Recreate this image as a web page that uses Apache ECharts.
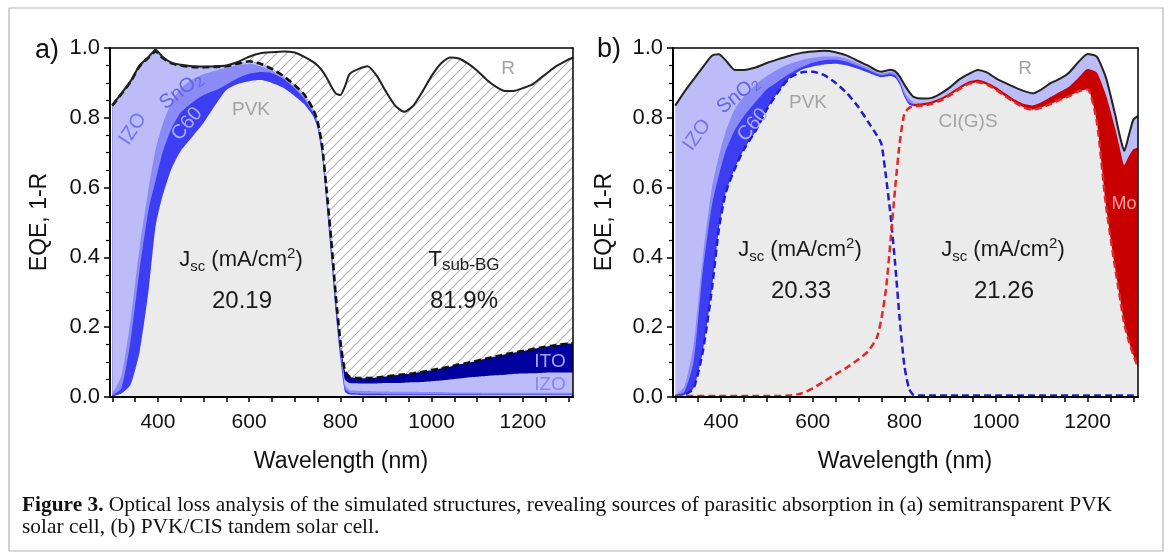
<!DOCTYPE html>
<html><head><meta charset="utf-8">
<script src="https://cdn.jsdelivr.net/npm/echarts@6/dist/echarts.min.js"></script>
<style>html,body{margin:0;padding:0;background:#fff}#c{width:1168px;height:559px}</style>
</head><body><div id="c"></div>
<script>
// ---------- data (wavelength grid, nm) ----------
const WL = [300,320,340,360,380,395,
  410,430,450,475,500,525,550,575,
  600,625,650,675,700,720,740,750,
  760,770,780,790,800,810,820,
  840,860,880,900,920,940,960,980,1000,
  1020,1040,1060,1080,1100,1120,1140,1160,1180,1200,
  1220,1240,1260,1270,1280,1290,1300,1310];

// Panel a: semitransparent PVK cell (cumulative boundaries)
const R_A = [0.837,0.87,0.905,0.95,0.975,0.995,
  0.975,0.958,0.952,0.948,0.947,0.948,0.95,0.96,
  0.975,0.985,0.988,0.99,0.987,0.975,0.96,0.95,
  0.935,0.915,0.89,0.87,0.865,0.89,0.925,
  0.94,0.948,0.92,0.875,0.835,0.817,0.835,0.875,0.92,
  0.955,0.973,0.97,0.955,0.935,0.91,0.89,0.877,0.877,0.885,
  0.895,0.915,0.935,0.945,0.953,0.96,0.967,0.972];
const ABS_A = [0.835,0.868,0.903,0.948,0.973,0.99,
  0.972,0.956,0.95,0.946,0.945,0.946,0.948,0.955,
  0.962,0.955,0.94,0.92,0.893,0.868,0.825,0.79,
  0.72,0.59,0.45,0.29,0.16,0.075,0.058,
  0.054,0.054,0.056,0.059,0.062,0.065,0.068,0.072,0.077,
  0.082,0.087,0.093,0.098,0.104,0.11,0.116,0.122,0.127,0.132,
  0.137,0.142,0.146,0.148,0.15,0.152,0.153,0.154];
const IZO_A = [0.835,0.868,0.903,0.948,0.973,0.99,
  0.972,0.956,0.95,0.946,0.945,0.946,0.948,0.955,
  0.962,0.955,0.94,0.92,0.893,0.868,0.825,0.79,
  0.72,0.59,0.45,0.29,0.155,0.05,0.04,
  0.039,0.039,0.039,0.04,0.04,0.041,0.042,0.043,0.045,
  0.047,0.05,0.053,0.056,0.058,0.06,0.062,0.064,0.066,0.067,
  0.068,0.069,0.07,0.07,0.07,0.07,0.07,0.07];
const SNO2_A = [0.01,0.06,0.22,0.43,0.6,0.71,
  0.78,0.845,0.885,0.91,0.925,0.935,0.943,0.95,
  0.955,0.948,0.935,0.915,0.888,0.862,0.82,0.786,
  0.712,0.58,0.44,0.28,0.148,0.035,0.02,
  0.018,0.017,0.016,0.016,0.015,0.015,0.015,0.014,0.014,
  0.014,0.013,0.013,0.013,0.013,0.012,0.012,0.012,0.012,0.012,
  0.012,0.012,0.012,0.012,0.012,0.012,0.012,0.012];
const C60_A = [0.005,0.025,0.16,0.365,0.54,0.62,
  0.7,0.77,0.815,0.843,0.865,0.878,0.895,0.913,
  0.926,0.931,0.928,0.912,0.884,0.856,0.815,0.78,
  0.705,0.57,0.425,0.265,0.135,0.025,0.012,
  0.01,0.009,0.009,0.008,0.008,0.008,0.008,0.008,0.008,
  0.008,0.008,0.008,0.008,0.008,0.007,0.007,0.007,0.007,0.007,
  0.007,0.007,0.007,0.007,0.007,0.007,0.007,0.007];
const PVK_A = [0.002,0.01,0.035,0.13,0.31,0.49,
  0.575,0.655,0.705,0.745,0.785,0.835,0.88,0.897,
  0.905,0.908,0.9,0.886,0.862,0.84,0.805,0.77,
  0.69,0.55,0.4,0.24,0.11,0.015,0.007,
  0.006,0.005,0.005,0.005,0.005,0.005,0.005,0.005,0.005,
  0.005,0.005,0.005,0.005,0.005,0.005,0.005,0.005,0.005,0.005,
  0.005,0.005,0.005,0.005,0.005,0.005,0.005,0.005];

// Panel b: PVK/CIS tandem cell
const R_B = [0.835,0.875,0.91,0.945,0.978,0.982,
  0.965,0.937,0.937,0.944,0.957,0.968,0.978,0.986,
  0.99,0.992,0.988,0.978,0.962,0.95,0.935,0.932,
  0.935,0.938,0.933,0.918,0.895,0.875,0.86,
  0.855,0.857,0.87,0.888,0.91,0.925,0.937,0.93,0.913,
  0.9,0.888,0.877,0.87,0.882,0.9,0.912,0.93,0.96,0.983,
  0.975,0.915,0.81,0.75,0.705,0.75,0.795,0.805];
const MO_B = [null,null,null,null,null,null,
  null,null,null,null,null,null,null,null,
  null,null,null,null,null,null,null,null,
  null,null,null,null,0.82,0.835,0.84,
  0.842,0.847,0.857,0.872,0.889,0.904,0.909,0.902,0.888,
  0.87,0.853,0.84,0.835,0.845,0.86,0.875,0.89,0.915,0.94,
  0.93,0.865,0.77,0.715,0.665,0.69,0.71,0.715];
const SNO2_B = [0.005,0.03,0.15,0.4,0.6,0.69,
  0.76,0.825,0.862,0.895,0.92,0.94,0.955,0.965,
  0.972,0.976,0.976,0.969,0.955,0.944,0.93,0.927,
  0.929,0.932,0.928,0.91,0.877,0.855,0.845,
  null,null,null,null,null,null,null,null,null,
  null,null,null,null,null,null,null,null,null,null,
  null,null,null,null,null,null,null,null];
const C60_B = [0.003,0.015,0.1,0.36,0.55,0.635,
  0.705,0.765,0.805,0.845,0.882,0.905,0.927,0.945,
  0.958,0.965,0.966,0.96,0.948,0.938,0.926,0.922,
  0.924,0.926,0.921,0.902,0.867,0.845,0.838,
  null,null,null,null,null,null,null,null,null,
  null,null,null,null,null,null,null,null,null,null,
  null,null,null,null,null,null,null,null];
const GRAY_B = [0.003,0.006,0.025,0.13,0.31,0.48,
  0.585,0.655,0.71,0.76,0.825,0.875,0.915,0.937,
  0.947,0.953,0.955,0.95,0.94,0.93,0.92,0.916,
  0.918,0.92,0.915,0.895,0.86,0.838,0.833,
  0.835,0.84,0.85,0.865,0.882,0.897,0.902,0.895,0.88,
  0.862,0.845,0.83,0.823,0.83,0.84,0.852,0.862,0.876,0.882,
  0.79,0.55,0.37,0.29,0.21,0.16,0.12,0.085];
const PVK_B = [0.003,0.006,0.025,0.13,0.31,0.48,
  0.585,0.655,0.71,0.762,0.825,0.875,0.915,0.93,
  0.932,0.922,0.9,0.87,0.83,0.79,0.75,0.725,
  0.63,0.52,0.38,0.22,0.09,0.025,0.006,
  0.004,0.004,0.004,0.004,0.004,0.004,0.004,0.004,0.004,
  0.004,0.004,0.004,0.004,0.004,0.004,0.004,0.004,0.004,0.004,
  0.004,0.004,0.004,0.004,0.004,0.004,0.004,0.004];
const CIGS_B = [0.003,0.003,0.003,0.003,0.003,0.003,
  0.003,0.003,0.003,0.003,0.003,0.003,0.004,0.01,
  0.025,0.045,0.065,0.085,0.108,0.13,0.17,0.225,
  0.31,0.45,0.6,0.73,0.812,0.828,0.833,
  0.835,0.84,0.85,0.865,0.882,0.897,0.902,0.895,0.88,
  0.862,0.845,0.83,0.823,0.83,0.84,0.852,0.862,0.876,0.882,
  0.79,0.55,0.37,0.29,0.21,0.16,0.12,0.085];

const X_LABELS = [400,600,800,1000,1200];
const X_TICKS = [300,350,400,450,500,550,600,650,700,750,800,850,900,950,1000,1050,1100,1150,1200,1250,1300];

// ---------- styling ----------
const SANS = '"Liberation Sans", Arial, sans-serif';
const SERIF = '"Liberation Serif", "Times New Roman", serif';
const C = {gray:'#ebebeb', c60:'#3d3df4', sno2:'#8b8bf6', izo:'#bcbcf9', ito:'#00009e', mo:'#c80000'};

const hc = document.createElement('canvas'); hc.width = 10; hc.height = 10;
const hg = hc.getContext('2d');
hg.fillStyle = '#fff'; hg.fillRect(0,0,10,10);
hg.strokeStyle = '#b2b2b2'; hg.lineWidth = 1.1;
hg.beginPath(); hg.moveTo(-2,12); hg.lineTo(12,-2); hg.moveTo(-2,2); hg.lineTo(2,-2); hg.moveTo(8,12); hg.lineTo(12,8); hg.stroke();
const HATCH = {image: hc, repeat: 'repeat'};

function pts(v){ const o=[]; WL.forEach((w,i)=>{ if(v[i]!=null) o.push([w,v[i]]); }); return o; }
function area(g, v, color){
  return {type:'line', xAxisIndex:g, yAxisIndex:g, data:pts(v), showSymbol:false, smooth:0.2, silent:true,
    lineStyle:{width:0}, areaStyle:{color:color, opacity:1}};
}
function line(g, v, color, width, dash){
  return {type:'line', xAxisIndex:g, yAxisIndex:g, data:pts(v), showSymbol:false, smooth:0.2, silent:true,
    lineStyle:{width:width, color:color, type:dash||'solid', cap:'butt'}, z:5};
}

const grids = [
  {left:110, top:48, width:463, height:349},
  {left:673, top:48, width:465, height:349}
];
function xBottom(i){ return {type:'value', gridIndex:i, min:295, max:1310, position:'bottom',
  axisLine:{onZero:false, lineStyle:{color:'#000', width:2}},
  axisTick:{customValues:X_TICKS, length:5, lineStyle:{color:'#000', width:1.5}},
  axisLabel:{customValues:X_LABELS, margin:15, fontSize:21, color:'#111', fontFamily:SANS, formatter:v=>String(v)},
  splitLine:{show:false}, z:10}; }
function xTop(i){ return {type:'value', gridIndex:i, min:295, max:1310, position:'top',
  axisLine:{onZero:false, lineStyle:{color:'#000', width:1.5}}, axisTick:{show:false}, axisLabel:{show:false}, splitLine:{show:false}, z:10}; }
function yLeft(i){ return {type:'value', gridIndex:i, min:0, max:1, interval:0.2, position:'left',
  axisLine:{show:true, onZero:false, lineStyle:{color:'#000', width:2}},
  axisTick:{show:true, length:6, lineStyle:{color:'#000', width:1.5}},
  minorTick:{show:true, splitNumber:4, length:4, lineStyle:{color:'#000', width:1.2}},
  axisLabel:{margin:10, fontSize:22, color:'#111', fontFamily:SANS, formatter:v=>v.toFixed(1)},
  splitLine:{show:false}, z:10}; }
function yRight(i){ return {type:'value', gridIndex:i, min:0, max:1, position:'right',
  axisLine:{show:true, onZero:false, lineStyle:{color:'#000', width:1.5}}, axisTick:{show:false}, axisLabel:{show:false}, splitLine:{show:false}, z:10}; }

const series = [
  // panel a
  area(0, R_A, HATCH),
  area(0, ABS_A, C.ito),
  area(0, IZO_A, C.izo),
  area(0, SNO2_A, C.sno2),
  area(0, C60_A, C.c60),
  area(0, PVK_A, C.gray),
  line(0, ABS_A, '#111', 2.6, [7,4]),
  line(0, R_A, '#222', 2),
  // panel b
  area(1, R_B, C.izo),
  area(1, MO_B, C.mo),
  area(1, SNO2_B, C.sno2),
  area(1, C60_B, C.c60),
  area(1, GRAY_B, C.gray),
  line(1, PVK_B, '#1f1fd0', 2.5, [7,4]),
  line(1, CIGS_B, '#e02828', 2.5, [7,4]),
  line(1, R_B, '#222', 2)
];

// ---------- text ----------
function txt(x, y, text, size, color, extra){
  return Object.assign({type:'text', x:x, y:y, z:100, silent:true,
    style:{text:text, fill:color||'#111', fontSize:size, fontFamily:SANS, align:'center', verticalAlign:'middle'}}, extra||{});
}
function rich(x, y, text, richDef, extra){
  return Object.assign({type:'text', x:x, y:y, z:100, silent:true,
    style:{text:text, rich:richDef, align:'center', verticalAlign:'middle'}}, extra||{});
}
const JSC_RICH = {
  a:{fontSize:22, fontFamily:SANS, fill:'#1a1a1a', lineHeight:28, verticalAlign:'middle'},
  s:{fontSize:15, fontFamily:SANS, fill:'#1a1a1a', lineHeight:28, verticalAlign:'bottom'},
  p:{fontSize:15, fontFamily:SANS, fill:'#1a1a1a', lineHeight:28, verticalAlign:'top'}
};
const JSC = '{a|J}{s|sc}{a| (mA/cm}{p|2}{a|)}';
const T_RICH = {
  a:{fontSize:22, fontFamily:SANS, fill:'#1a1a1a', lineHeight:28, verticalAlign:'middle'},
  s:{fontSize:17, fontFamily:SANS, fill:'#1a1a1a', lineHeight:28, verticalAlign:'bottom'}
};
function sno2(x, y, color, rot){
  return rich(x, y, '{a|SnO}{s|2}', {
    a:{fontSize:20, fontFamily:SANS, fill:color, lineHeight:24, verticalAlign:'middle'},
    s:{fontSize:14, fontFamily:SANS, fill:color, lineHeight:24, verticalAlign:'bottom'}}, {rotation:rot});
}
const D = Math.PI/180;
const graphics = [
  {type:'rect', z:0, silent:true, shape:{x:9, y:8, width:1154, height:543}, style:{fill:'none', stroke:'#b5b5b5', lineWidth:1.2}},
  txt(47, 51, 'a)', 27, '#111'),
  txt(609, 50, 'b)', 27, '#111'),
  txt(40, 222, 'EQE, 1-R', 23, '#111', {rotation:90*D}),
  txt(605, 222, 'EQE, 1-R', 23, '#111', {rotation:90*D}),
  txt(341, 462, 'Wavelength (nm)', 23, '#111'),
  txt(905, 462, 'Wavelength (nm)', 23, '#111'),
  // panel a labels
  txt(133, 129, 'IZO', 20, '#7474f0', {rotation:57*D}),
  sno2(181, 91, '#6464ea', 38*D),
  txt(187, 124, 'C60', 20, '#aaaaff', {rotation:50*D}),
  txt(251, 110, 'PVK', 19, '#a3a3a3'),
  txt(508, 69, 'R', 19, '#a3a3a3'),
  rich(241, 260, JSC, JSC_RICH),
  txt(242, 301, '20.19', 24, '#1a1a1a'),
  rich(464, 260, '{a|T}{s|sub-BG}', T_RICH),
  txt(464, 301, '81.9%', 24, '#1a1a1a'),
  txt(550, 362, 'ITO', 19, '#a2a2ff'),
  txt(550, 385, 'IZO', 19, '#8585ff'),
  // panel b labels
  txt(697, 135, 'IZO', 20, '#7474f0', {rotation:55*D}),
  sno2(738, 95, '#6464ea', 39*D),
  txt(753, 125, 'C60', 20, '#aaaaff', {rotation:50*D}),
  txt(808, 103, 'PVK', 19, '#a3a3a3'),
  txt(1025, 69, 'R', 19, '#a3a3a3'),
  txt(968, 122, 'CI(G)S', 19, '#a3a3a3'),
  txt(1124, 204, 'Mo', 18, '#ffa0a0'),
  rich(800, 250, JSC, JSC_RICH),
  txt(801, 291, '20.33', 24, '#1a1a1a'),
  rich(1003, 250, JSC, JSC_RICH),
  txt(1004, 291, '21.26', 24, '#1a1a1a')
];

// caption (serif, horizontally condensed to the reference width)
const CAP_B = 'Figure 3.';
const CAP_1 = ' Optical loss analysis of the simulated structures, revealing sources of parasitic absorption in (a) semitransparent PVK';
const CAP_2 = 'solar cell, (b) PVK/CIS tandem solar cell.';
const CAP_FS = 22;
const mc = document.createElement('canvas').getContext('2d');
mc.font = 'bold ' + CAP_FS + 'px ' + SERIF; const wb = mc.measureText(CAP_B).width;
mc.font = CAP_FS + 'px ' + SERIF; const wn = mc.measureText(CAP_1).width;
const capScale = 1090 / (wb + wn);
const CAP_RICH = {
  b:{fontSize:CAP_FS, fontFamily:SERIF, fontWeight:'bold', fill:'#111'},
  n:{fontSize:CAP_FS, fontFamily:SERIF, fill:'#111'}
};
graphics.push({type:'text', x:22, y:505, z:100, scaleX:capScale, silent:true,
  style:{text:'{b|'+CAP_B+'}{n|'+CAP_1+'}', rich:CAP_RICH, align:'left', verticalAlign:'middle'}});
graphics.push({type:'text', x:22, y:527, z:100, scaleX:capScale, silent:true,
  style:{text:'{n|'+CAP_2+'}', rich:CAP_RICH, align:'left', verticalAlign:'middle'}});

const chart = echarts.init(document.getElementById('c'), null, {renderer:'canvas'});
chart.setOption({
  animation:false,
  backgroundColor:'#fff',
  grid: grids,
  xAxis: [xBottom(0), xBottom(1), xTop(0), xTop(1)],
  yAxis: [yLeft(0), yLeft(1), yRight(0), yRight(1)],
  series: series,
  graphic: graphics
});
</script>
</body></html>
